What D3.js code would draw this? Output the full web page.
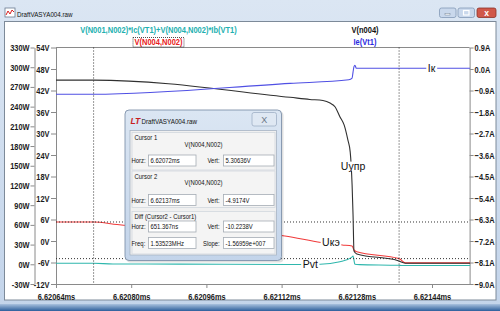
<html>
<head>
<meta charset="utf-8">
<script src="https://cdn.jsdelivr.net/npm/d3@7"></script>
<style>
  body { margin: 0; background: #fff; }
  text { font-family: 'Liberation Sans', Arial, sans-serif; }
</style>
</head>
<body>
<div id="chart"></div>
<script>
// --- data ---
var timeTicks = [6.62064, 6.62080, 6.62096, 6.62112, 6.62128, 6.62144];
var wTicks = [330, 300, 270, 240, 210, 180, 150, 120, 90, 60, 30, 0, -30];
var vTicks = [54, 48, 42, 36, 30, 24, 18, 12, 6, 0, -6, -12];
var aTicks = [0.9, 0.0, -0.9, -1.8, -2.7, -3.6, -4.5, -5.4, -6.3, -7.2, -8.1, -9.0];

// Pvt = V(N001,N002)*Ic(VT1)+V(N004,N002)*Ib(VT1), W
var tPvt = [6.62064, 6.62072, 6.620761, 6.620904, 6.621138, 6.621202, 6.621244, 6.621269, 6.621272, 6.621276, 6.621286, 6.621368, 6.621376, 6.621521];
var pvt  = [1.5, 1.5, 0.5, 0.3, -0.3, 0.0, 3.9, 10.6, 12.6, 0.0, -0.5, -1.5, -1.8, -1.8];

// Uкэ = V(N004,N002), V
var tUke = [6.62064, 6.62072, 6.62077, 6.621127, 6.621204, 6.621249, 6.62127, 6.621274, 6.62128, 6.62137, 6.621383, 6.621521];
var uke  = [5.31, 5.31, 4.6, 1.4, -0.4, -1.1, -1.4, -2.5, -3.0, -4.92, -6.1, -6.1];

// Uупр = V(n004), V
var tUupr = [6.62064, 6.62072, 6.621138, 6.62118, 6.621208, 6.621223, 6.621234, 6.621244, 6.621253, 6.621261, 6.621266, 6.621268, 6.62127, 6.621272, 6.621274, 6.62128, 6.621368, 6.621383, 6.621521];
var uupr  = [44.9, 44.9, 40.1, 39.5, 39.2, 38.5, 37.4, 34.7, 32.4, 28.2, 24.8, 21.2, 15.6, 7.3, -2.8, -3.6, -5.5, -6.2, -6.2];

// Iк = Ie(Vt1), A
var tIk = [6.62064, 6.62072, 6.621138, 6.621263, 6.62127, 6.621272, 6.621274, 6.621276, 6.621279, 6.621521];
var ik  = [-1.06, -1.06, -0.60, -0.45, -0.38, -0.13, 0.10, 0.155, 0.03, 0.03];

var cursor1 = {t: 6.62072, v: 5.30636};
var cursor2 = {t: 6.62137, v: -4.9174};

var W = 500, H = 311;
var svg = d3.select("#chart").append("svg").attr("width", W).attr("height", H);

// squeeze a text horizontally (the screenshot font is a narrow one)
function condense(sel, k) {
  sel.each(function() {
    var w = this.getComputedTextLength();
    d3.select(this).attr("textLength", w * k).attr("lengthAdjust", "spacingAndGlyphs");
  });
}

// --- window chrome ---
var defs = svg.append("defs");
var g1 = defs.append("linearGradient").attr("id", "frame").attr("x1", 0).attr("y1", 0).attr("x2", 0).attr("y2", 1);
g1.append("stop").attr("offset", "0%").attr("stop-color", "#dbe6f3");
g1.append("stop").attr("offset", "100%").attr("stop-color", "#c3d4ea");
var g2 = defs.append("linearGradient").attr("id", "bottomBand").attr("x1", 0).attr("y1", 0).attr("x2", 0).attr("y2", 1);
g2.append("stop").attr("offset", "0%").attr("stop-color", "#a9c1de");
g2.append("stop").attr("offset", "100%").attr("stop-color", "#2d5f9c");

svg.append("rect").attr("width", W).attr("height", H).attr("fill", "url(#frame)");
svg.append("rect").attr("x", 0).attr("y", 304).attr("width", W).attr("height", 7).attr("fill", "url(#bottomBand)");
svg.append("rect").attr("x", 4.5).attr("y", 21.5).attr("width", 491.5).attr("height", 278.5)
  .attr("fill", "#fff").attr("stroke", "#7d8a99");

// title bar icon + text
var icon = svg.append("g").attr("transform", "translate(5,8)");
icon.append("rect").attr("width", 10).attr("height", 9).attr("fill", "#fff").attr("stroke", "#6a7b90").attr("stroke-width", 0.8);
icon.append("polyline").attr("points", "1,7 3,3 5,6 7,2 9,4").attr("fill", "none").attr("stroke", "#d62020").attr("stroke-width", 1);
svg.append("text").attr("class", "nar").attr("x", 17).attr("y", 16.5).attr("font-size", 7.8).attr("fill", "#111").text("DraftVASYA004.raw");

function winButton(x, w, fill, stroke) {
  var b = svg.append("g").attr("transform", "translate(" + x + ",8)");
  b.append("rect").attr("width", w).attr("height", 9.5).attr("rx", 2)
    .attr("fill", fill).attr("stroke", stroke).attr("stroke-width", 0.8);
  return b;
}
var bMin = winButton(439.5, 16.5, "#c9d8ec", "#8399b6");
bMin.append("rect").attr("x", 5.5).attr("y", 5.5).attr("width", 5).attr("height", 1.5).attr("fill", "#fff").attr("stroke", "#5d6d80").attr("stroke-width", 0.4);
var bMax = winButton(458, 16.5, "#c9d8ec", "#8399b6");
bMax.append("rect").attr("x", 5.5).attr("y", 2.5).attr("width", 5.5).attr("height", 4.5).attr("fill", "none").attr("stroke", "#fff").attr("stroke-width", 1.2);
var bClose = winButton(477, 19, "#d0584a", "#8c3328");
bClose.append("text").attr("x", 9.5).attr("y", 8).attr("text-anchor", "middle")
  .attr("font-size", 8.5).attr("font-weight", "bold").attr("fill", "#fff").text("x");

// --- plot ---
var pL = 56, pR = 469.6, pT = 47.5, pB = 284;
var x = d3.scaleLinear().domain([6.62064, 6.62152]).range([pL, pR]);
var yV = d3.scaleLinear().domain([-12, 54]).range([pB, pT]);
var yW = d3.scaleLinear().domain([-30, 330]).range([pB, pT]);
var yA = d3.scaleLinear().domain([-9.0, 0.9]).range([pB, pT]);

var axisColor = "#8a8a8a";
function styleAxis(g) {
  g.selectAll(".domain").attr("stroke", axisColor);
  g.selectAll(".tick line").attr("stroke", axisColor);
  g.selectAll(".tick text").attr("fill", "#1c1c1c").attr("font-size", 9.5).attr("font-weight", "bold")
    .attr("font-family", "'Liberation Sans', Arial, sans-serif")
    .call(condense, 0.78);
}

svg.append("line").attr("x1", pL).attr("x2", pR).attr("y1", pT).attr("y2", pT).attr("stroke", axisColor);

svg.append("g").attr("transform", "translate(34.5,0)")
  .call(d3.axisLeft(yW).tickValues(wTicks).tickSize(4).tickSizeOuter(0).tickPadding(1)
    .tickFormat(function(d) { return d + "W"; }))
  .call(styleAxis);

svg.append("g").attr("transform", "translate(" + pL + ",0)")
  .call(d3.axisLeft(yV).tickValues(vTicks).tickSize(5).tickSizeOuter(0).tickPadding(1.5)
    .tickFormat(function(d) { return d + "V"; }))
  .call(styleAxis);

svg.append("g").attr("transform", "translate(" + pR + ",0)")
  .call(d3.axisRight(yA).tickValues(aTicks).tickSize(4).tickSizeOuter(0).tickPadding(1)
    .tickFormat(function(d) { return d3.format(".1f")(d) + "A"; }))
  .call(styleAxis);

svg.append("g").attr("transform", "translate(0," + pB + ")")
  .call(d3.axisBottom(x).tickValues(timeTicks).tickSize(4).tickSizeOuter(0).tickPadding(5)
    .tickFormat(function(d) { return d3.format(".5f")(d) + "ms"; }))
  .call(styleAxis);

// traces
function pts(ts, vs) { return ts.map(function(t, i) { return [t, vs[i]]; }); }
function trace(data, yScale, color) {
  var line = d3.line().x(function(d) { return x(d[0]); }).y(function(d) { return yScale(d[1]); })
    .curve(d3.curveMonotoneX);
  svg.append("path").datum(data).attr("d", line).attr("fill", "none")
    .attr("stroke", color).attr("stroke-width", 1.1);
}
var cTeal = "#2fb7ad", cRed = "#f03a3a", cBlack = "#303030", cBlue = "#5050e4";
trace(pts(tPvt, pvt), yW, cTeal);
trace(pts(tUke, uke), yV, cRed);
trace(pts(tUupr, uupr), yV, cBlack);
trace(pts(tIk, ik), yA, cBlue);

// cursors
var dots = "1,2";
[cursor1, cursor2].forEach(function(c) {
  svg.append("line").attr("x1", x(c.t)).attr("x2", x(c.t)).attr("y1", pT).attr("y2", pB)
    .attr("stroke", "#333").attr("stroke-dasharray", dots);
  svg.append("line").attr("x1", pL).attr("x2", pR).attr("y1", yV(c.v)).attr("y2", yV(c.v))
    .attr("stroke", "#333").attr("stroke-dasharray", dots);
});

// header trace names
function header(tx, ty, str, color) {
  return svg.append("text").attr("x", tx).attr("y", ty).attr("dy", "0.35em").attr("text-anchor", "middle")
    .attr("font-size", 9.5).attr("font-weight", "bold").attr("fill", color).text(str)
    .call(condense, 0.79);
}
header(158.5, 29.5, "V(N001,N002)*Ic(VT1)+V(N004,N002)*Ib(VT1)", "#22b0b0");
var redHdr = header(158.5, 42, "V(N004,N002)", "#e82020");
var bb = redHdr.node().getBBox();
svg.append("rect").attr("x", bb.x - 1.5).attr("y", 37.5).attr("width", bb.width + 3).attr("height", 9.5)
  .attr("fill", "none").attr("stroke", "#222").attr("stroke-width", 0.8).attr("stroke-dasharray", "1,1");
header(365, 29.5, "V(n004)", "#111");
header(365, 42, "Ie(Vt1)", "#2b2be0");

// labels on traces
function traceLabel(px, py, str) {
  var t = svg.append("text").attr("x", px).attr("y", py).attr("dy", "0.35em").attr("text-anchor", "middle")
    .attr("font-size", 10.5).attr("fill", "#111").text(str);
  var b = t.node().getBBox();
  svg.insert("rect", function() { return t.node(); })
    .attr("x", b.x - 1.5).attr("y", py - 4.5).attr("width", b.width + 3).attr("height", 9).attr("fill", "#fff");
}
traceLabel(x(6.621439), yA(0.03), "Iк");
traceLabel(x(6.621272), yV(20.9), "Uупр");
traceLabel(x(6.621225), yV(-0.4), "Uкэ");
traceLabel(x(6.621181), yW(-0.3), "Pvt");

// --- cursor dialog ---
var dlg = svg.append("g");
dlg.append("rect").attr("x", 126.5).attr("y", 111.5).attr("width", 157).attr("height", 151)
  .attr("rx", 4).attr("fill", "#000").attr("opacity", 0.12);
dlg.append("rect").attr("x", 125).attr("y", 110).attr("width", 156.5).attr("height", 150.5)
  .attr("rx", 4).attr("fill", "url(#frame)").attr("stroke", "#7f92aa").attr("stroke-width", 0.9);
dlg.append("text").attr("x", 130.5).attr("y", 124).attr("font-size", 8.5).attr("font-weight", "bold")
  .attr("font-style", "italic").attr("fill", "#c81e1e").text("LT");
dlg.append("text").attr("class", "nar").attr("x", 141.5).attr("y", 123.5).attr("font-size", 7.8).attr("fill", "#111").text("DraftVASYA004.raw");
dlg.append("rect").attr("x", 252).attr("y", 112.5).attr("width", 24.5).attr("height", 13.5).attr("rx", 2)
  .attr("fill", "#dfe8f3").attr("stroke", "#9fb0c5").attr("stroke-width", 0.8);
dlg.append("text").attr("x", 264.3).attr("y", 122.5).attr("text-anchor", "middle").attr("font-size", 9)
  .attr("fill", "#6a7686").text("X");
dlg.append("rect").attr("x", 130).attr("y", 130.5).attr("width", 146.5).attr("height", 124.5)
  .attr("fill", "#f0f0f0").attr("stroke", "#a7b4c4").attr("stroke-width", 0.8);

var groups = [
  {y0: 132.5, y1: 170, title: "Cursor 1", trace: "V(N004,N002)"},
  {y0: 171, y1: 207.5, title: "Cursor 2", trace: "V(N004,N002)"},
  {y0: 211.5, y1: 254, title: "Diff (Cursor2 - Cursor1)", trace: ""}
];
groups.forEach(function(gr) {
  dlg.append("rect").attr("x", 132).attr("y", gr.y0).attr("width", 143).attr("height", gr.y1 - gr.y0)
    .attr("fill", "#f4f4f4").attr("stroke", "#d2d8de").attr("stroke-width", 0.8);
  dlg.append("text").attr("class", "nar").attr("x", 134.5).attr("y", gr.y0 + 7.5).attr("font-size", 7.4).attr("fill", "#111").text(gr.title);
  if (gr.trace) dlg.append("text").attr("class", "nar").attr("x", 203.5).attr("y", gr.y0 + 14).attr("text-anchor", "middle")
    .attr("font-size", 7.4).attr("fill", "#111").text(gr.trace);
});

var rows = [
  {y: 155, l1: "Horz:", v1: "6.62072ms", l2: "Vert:", v2: "5.30636V", l2x: 207.5},
  {y: 194.5, l1: "Horz:", v1: "6.62137ms", l2: "Vert:", v2: "-4.9174V", l2x: 207.5},
  {y: 221, l1: "Horz:", v1: "651.367ns", l2: "Vert:", v2: "-10.2238V", l2x: 207.5},
  {y: 237.5, l1: "Freq:", v1: "1.53523MHz", l2: "Slope:", v2: "-1.56959e+007", l2x: 203}
];
rows.forEach(function(r) {
  dlg.append("text").attr("class", "nar").attr("x", 131.5).attr("y", r.y + 8).attr("font-size", 7.4).attr("fill", "#111").text(r.l1);
  dlg.append("rect").attr("x", 148.5).attr("y", r.y).attr("width", 47.5).attr("height", 11)
    .attr("fill", "#fff").attr("stroke", "#a5acb5").attr("stroke-width", 0.8);
  dlg.append("text").attr("class", "nar").attr("x", 150.5).attr("y", r.y + 8).attr("font-size", 7.4).attr("fill", "#111").text(r.v1);
  dlg.append("text").attr("class", "nar").attr("x", r.l2x).attr("y", r.y + 8).attr("font-size", 7.4).attr("fill", "#111").text(r.l2);
  dlg.append("rect").attr("x", 223.5).attr("y", r.y).attr("width", 50.5).attr("height", 11)
    .attr("fill", "#fff").attr("stroke", "#a5acb5").attr("stroke-width", 0.8);
  dlg.append("text").attr("class", "nar").attr("x", 225.5).attr("y", r.y + 8).attr("font-size", 7.4).attr("fill", "#111").text(r.v2);
});

svg.selectAll("text.nar").call(condense, 0.8);
</script>
</body>
</html>
